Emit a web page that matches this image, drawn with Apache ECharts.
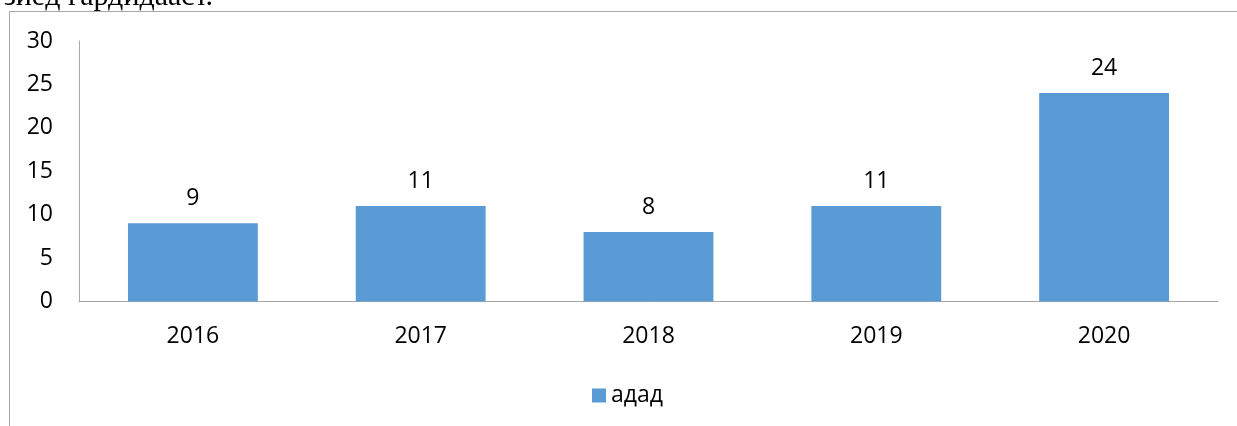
<!DOCTYPE html>
<html>
<head>
<meta charset="utf-8">
<script src="https://cdn.jsdelivr.net/npm/echarts@6/dist/echarts.min.js"></script>
<style>
html,body{margin:0;padding:0;background:#fff;}
#c{width:1237px;height:426px;}
</style>
</head>
<body>
<div id="c"></div>
<script>
var categories = ['2016', '2017', '2018', '2019', '2020'];
var values = [9, 11, 8, 11, 24];
var seriesName = 'адад';
var yTicks = [0, 5, 10, 15, 20, 25, 30];
var captionText = 'зиёд гардидааст.';

var FONT = '"Open Sans", "Liberation Sans", sans-serif';
var chart = echarts.init(document.getElementById('c'), null, {renderer: 'canvas'});
chart.setOption({
  animation: false,
  backgroundColor: '#fff',
  graphic: [
    {type: 'rect', shape: {x: 9.5, y: 11.5, width: 1400, height: 600},
     style: {fill: 'none', stroke: '#a6a6a6', lineWidth: 1}, silent: true},
    {type: 'text', x: 213, y: -3,
     style: {text: captionText, font: '30px "Liberation Serif", "DejaVu Serif", serif',
             fill: '#000', align: 'right', verticalAlign: 'middle'}}
  ],
  grid: {left: 79, right: 19, top: 41, bottom: 124.5, containLabel: false},
  legend: {
    data: [seriesName], bottom: 14, left: 587,
    icon: 'rect', itemWidth: 14, itemHeight: 14, itemGap: 8,
    textStyle: {fontFamily: FONT, fontSize: 23, color: '#000'}
  },
  xAxis: {
    type: 'category', data: categories,
    axisLine: {lineStyle: {color: '#a6a6a6', width: 1}},
    axisTick: {show: false},
    axisLabel: {fontFamily: FONT, fontSize: 23, color: '#000', margin: 23}
  },
  yAxis: {
    type: 'value', min: yTicks[0], max: yTicks[yTicks.length - 1], interval: 5,
    axisLine: {show: true, lineStyle: {color: '#a6a6a6', width: 1}},
    axisTick: {show: false},
    splitLine: {show: false},
    axisLabel: {fontFamily: FONT, fontSize: 23, color: '#000', margin: 26}
  },
  series: [{
    name: seriesName, type: 'bar', data: values,
    barCategoryGap: '43%',
    itemStyle: {color: '#5b9bd5'},
    label: {show: true, position: 'top', distance: 13, fontFamily: FONT, fontSize: 23, color: '#000'}
  }]
});
</script>
</body>
</html>
